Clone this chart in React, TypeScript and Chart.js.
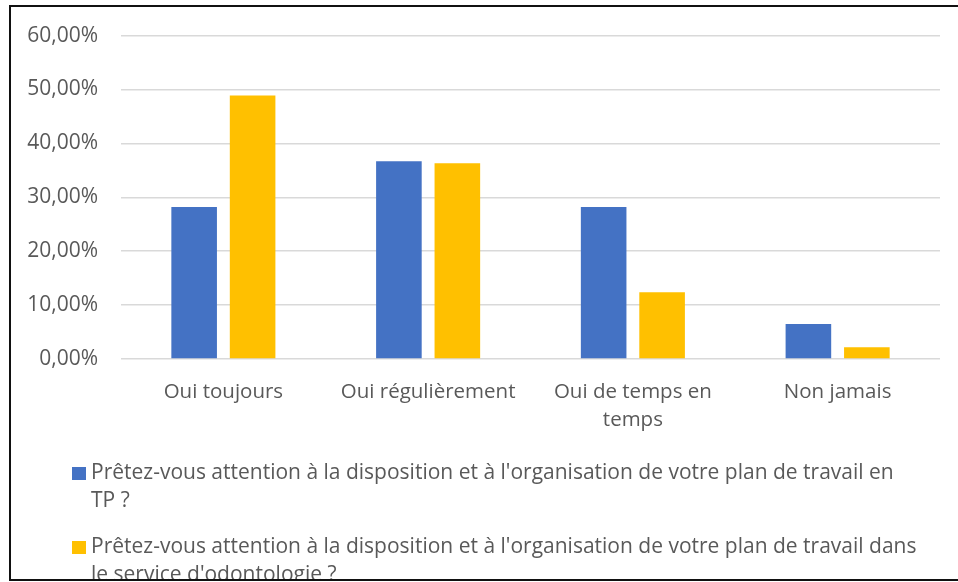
import React, { useEffect, useRef } from 'react';
import { Chart, registerables } from 'chart.js';

Chart.register(...registerables);

const categories: (string | string[])[] = [
  'Oui toujours',
  'Oui régulièrement',
  ['Oui de temps en', 'temps'],
  'Non jamais',
];
const seriesLabels = [
  "Prêtez-vous attention à la disposition et à l'organisation de votre plan de travail en TP ?",
  "Prêtez-vous attention à la disposition et à l'organisation de votre plan de travail dans le service d'odontologie ?",
];
const tpValues = [28.2, 36.7, 28.2, 6.5];
const serviceValues = [48.9, 36.3, 12.4, 2.2];
const yMin = 0;
const yMax = 60;
const yStep = 10;

const FONT = "'Open Sans', sans-serif";
const TEXT = '#595959';

function wrapText(ctx: CanvasRenderingContext2D, text: string, maxWidth: number): string[] {
  const words = text.split(' ');
  const lines: string[] = [];
  let cur = '';
  for (const w of words) {
    const test = cur ? cur + ' ' + w : w;
    if (ctx.measureText(test).width > maxWidth && cur) {
      lines.push(cur);
      cur = w;
    } else {
      cur = test;
    }
  }
  if (cur) lines.push(cur);
  return lines;
}

const legendAndFrame = {
  id: 'legendAndFrame',
  afterDraw(chart: any) {
    const ctx: CanvasRenderingContext2D = chart.ctx;
    ctx.save();
    ctx.beginPath();
    ctx.rect(0, 0, chart.width, 579);
    ctx.clip();
    ctx.font = `21px ${FONT}`;
    ctx.textBaseline = 'alphabetic';
    ctx.textAlign = 'left';
    let y = 479;
    chart.data.datasets.forEach((ds: any) => {
      const lines = wrapText(ctx, ds.label, 828);
      ctx.fillStyle = ds.backgroundColor;
      ctx.fillRect(72, y - 12, 14, 13);
      ctx.fillStyle = TEXT;
      lines.forEach((ln, i) => ctx.fillText(ln, 91, y + i * 28));
      y += lines.length * 28 + 18;
    });
    ctx.restore();

    ctx.save();
    ctx.strokeStyle = '#111111';
    ctx.lineWidth = 2;
    ctx.beginPath();
    ctx.moveTo(chart.width + 5, 6);
    ctx.lineTo(10, 6);
    ctx.lineTo(10, 580);
    ctx.lineTo(chart.width + 5, 580);
    ctx.stroke();
    ctx.restore();
  },
};

export default function App() {
  const ref = useRef<HTMLCanvasElement | null>(null);
  useEffect(() => {
    if (!ref.current) return;
    const chart = new Chart(ref.current, {
      type: 'bar',
      data: {
        labels: categories as any,
        datasets: [
          {
            label: seriesLabels[0],
            data: tpValues,
            backgroundColor: '#4472C4',
            categoryPercentage: 0.571,
            barPercentage: 0.78,
          },
          {
            label: seriesLabels[1],
            data: serviceValues,
            backgroundColor: '#FFC000',
            categoryPercentage: 0.571,
            barPercentage: 0.78,
          },
        ],
      },
      options: {
        responsive: false,
        animation: false,
        devicePixelRatio: 1,
        layout: { padding: { left: 0, right: 18, top: 35, bottom: 0 } },
        plugins: {
          legend: { display: false },
          tooltip: { enabled: false },
          title: { display: false },
        },
        scales: {
          x: {
            grid: { display: false, drawTicks: false },
            border: { display: false },
            ticks: {
              color: TEXT,
              font: { family: FONT, size: 20.5, lineHeight: 1.37 },
              padding: 19,
              maxRotation: 0,
              minRotation: 0,
              autoSkip: false,
            },
            afterFit: (scale: any) => {
              scale.height = 223;
            },
          },
          y: {
            min: yMin,
            max: yMax,
            grid: { color: '#D9D9D9', lineWidth: 1.5, drawTicks: false },
            border: { display: false },
            ticks: {
              stepSize: yStep,
              color: TEXT,
              font: { family: FONT, size: 21 },
              padding: 23,
              callback: (v: any) => Number(v).toFixed(2).replace('.', ',') + '%',
            },
            afterFit: (scale: any) => {
              scale.width = 121;
            },
          },
        },
      },
      plugins: [legendAndFrame],
    });
    return () => chart.destroy();
  }, []);
  return (
    <div style={{ position: 'absolute', left: 0, top: 0, width: 958, height: 582, background: '#fff' }}>
      <canvas ref={ref} width={958} height={582} style={{ display: 'block' }} />
    </div>
  );
}
